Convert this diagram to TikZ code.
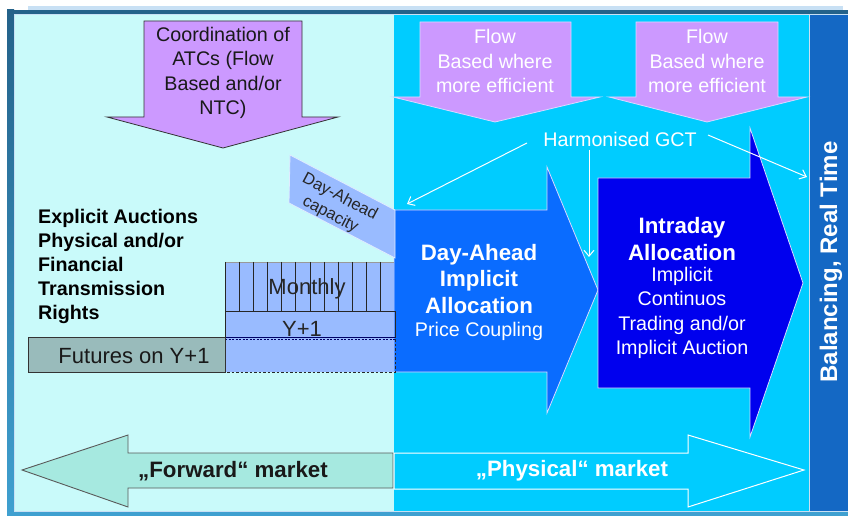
\documentclass[tikz,border=0pt]{standalone}
\usepackage{fontspec}
\setmainfont{Liberation Sans}
\usetikzlibrary{arrows.meta}
\definecolor{lcyan}{HTML}{C9FAFA}
\definecolor{cyanbg}{HTML}{00CCFF}
\definecolor{band}{HTML}{1468C4}
\definecolor{purp}{HTML}{CC99FF}
\definecolor{dablue}{HTML}{0A6CFF}
\definecolor{idblue}{HTML}{0000EE}
\definecolor{lblue}{HTML}{99BBFF}
\definecolor{futc}{HTML}{99BBBB}
\definecolor{fwdc}{HTML}{A6E9E0}
\definecolor{framedark}{HTML}{24628A}
\definecolor{framelight}{HTML}{C8E0F4}
\definecolor{framebot}{HTML}{3FA0D0}
\begin{document}
\begin{tikzpicture}[x=1bp,y=-1bp,
  txt/.style={inner sep=0pt, align=center, font=\fontsize{19.7bp}{24.3bp}\selectfont},
  ltxt/.style={inner sep=0pt, align=center, font=\fontsize{22bp}{26bp}\selectfont},
  btxt/.style={inner sep=0pt, align=center, font=\bfseries\fontsize{22.3bp}{26.5bp}\selectfont},
  gctarrow/.style={draw=white, line width=1bp, -{Straight Barb[length=6bp,width=10bp]}},
  darkedge/.style={draw=black!80, line width=0.8bp},
  lightedge/.style={draw=white!85!blue, line width=0.8bp}]
\useasboundingbox (0,0) rectangle (848,516);
% frame
\fill[white] (0,0) rectangle (848,516);
\fill[framelight] (28,6) rectangle (843,10);
\fill[framedark] (7,10) rectangle (848,14);
\shade[top color=framedark, bottom color=framebot] (7,10) rectangle (14,516);
\fill[framebot] (7,512) rectangle (848,516);
\fill[lcyan] (14,14) rectangle (394,511);
\fill[cyanbg] (394,14) rectangle (810,511);
\fill[band] (810,14) rectangle (848,512);
\draw[framelight, line width=1bp] (14,14.5) -- (848,14.5);
\draw[framelight, line width=1.2bp] (809.5,14) -- (809.5,511);
\draw[framelight, line width=1bp] (14,511.5) -- (848,511.5);
\draw[framelight, line width=1bp] (14.5,14) -- (14.5,511);
% coordination arrow
\path[fill=purp, darkedge] (144,21) -- (302,21) -- (302,117) -- (338,117) -- (223,148) -- (107,117) -- (144,117) -- cycle;
\node[txt, text=black!90] (coord) at (223,73) {Coordination of\\ATCs (Flow\\Based and/or\\NTC)};
% flow arrows
\path[fill=purp, lightedge] (420,22) -- (571,22) -- (571,97) -- (600,97) -- (495,122) -- (393,97) -- (420,97) -- cycle;
\path[fill=purp, lightedge] (636,22) -- (778,22) -- (778,97) -- (807,97) -- (707,122) -- (609,97) -- (636,97) -- cycle;
\node[txt, text=white] (flow1) at (495,61) {Flow\\Based where\\more efficient};
\node[txt, text=white] (flow2) at (707,61) {Flow\\Based where\\more efficient};
% day-ahead arrow
\path[fill=dablue, lightedge] (394,210) -- (547,210) -- (547,167) -- (598,290) -- (547,413) -- (547,372) -- (394,372) -- cycle;
% intraday arrow
\path[fill=idblue, lightedge] (598,178) -- (750,178) -- (750,128) -- (803,283) -- (750,437) -- (750,388) -- (598,388) -- cycle;
\node[btxt, text=white] (da) at (479,279) {Day-Ahead\\Implicit\\Allocation};
\node[txt, text=white] (dapc) at (479,331) {Price Coupling};
\node[btxt, text=white] (id) at (682,239) {Intraday\\Allocation};
\node[txt, text=white] (idtx) at (682,313) {Implicit\\Continuos\\Trading and/or\\Implicit Auction};
% day-ahead capacity
\path[fill=lblue, draw=white!70!lblue, line width=0.8bp] (290,155) -- (289,203) -- (395,258) -- (395,210) -- cycle;
\node[inner sep=0pt, align=center, rotate=-28, text=black!85, font=\fontsize{16.5bp}{20bp}\selectfont] (dacap) at (335,206) {Day-Ahead\\capacity};
% monthly / Y+1 / futures
\fill[lblue] (225,262) rectangle (394,372);
\draw[black!40, line width=0.6bp] (225,262) -- (394,262);
\foreach \i in {0,...,11} {\draw[black!85, line width=1bp] (225+\i*14.17,262) -- (225+\i*14.17,311);}
\draw[black!85, line width=0.9bp] (225,311) -- (395,311) -- (395,338);
\draw[black!85, line width=0.9bp] (225,311) -- (225,338);
\draw[blue!40!black, line width=0.9bp] (225,337) -- (395,337);
\draw[blue!40!black, line width=0.7bp, dash pattern=on 2bp off 1.5bp] (225,339) -- (395,339);
\draw[black!85, line width=0.7bp, dash pattern=on 2.5bp off 2bp] (225,338) -- (225,372) -- (395,372) -- (395,338);
\node[ltxt, text=black!85] (monthly) at (307,289) {Monthly};
\node[ltxt, text=black!85] (y1) at (302,329) {Y+1};
\path[fill=futc, darkedge] (28,337) rectangle (225,372);
\node[ltxt, text=black!90] (fut) at (134,356) {Futures on Y+1};
% explicit auctions text
\node[inner sep=0pt, align=left, anchor=west, font=\bfseries\fontsize{19.7bp}{24bp}\selectfont] (expl) at (38,266) {Explicit Auctions\\Physical and/or\\Financial\\Transmission\\Rights};
% forward / physical arrows
\path[fill=fwdc, draw=black!65, line width=0.9bp] (393,453) -- (128,453) -- (128,435) -- (22,470) -- (128,507) -- (128,488) -- (393,488) -- cycle;
\node[inner sep=0pt, font=\bfseries\fontsize{22.3bp}{26bp}\selectfont, text=black!90] (fwd) at (233,471) {„Forward“ market};
\path[fill=cyanbg, draw=white, line width=1bp] (394,453) -- (688,453) -- (688,435) -- (804,470) -- (688,507) -- (688,489) -- (394,489) -- cycle;
\node[inner sep=0pt, font=\bfseries\fontsize{22.3bp}{26bp}\selectfont, text=white] (phys) at (572,471) {„Physical“ market};
% harmonised GCT
\node[txt, text=white] (gct) at (620,139) {Harmonised GCT};
\coordinate (g1) at (527,143);
\coordinate (g2) at (589,150);
\coordinate (g3) at (708,135);
\coordinate (t1) at (407,204);
\coordinate (t2) at (589,257);
\coordinate (t3) at (807,177);
\draw[gctarrow] (g1) -- (t1);
\draw[gctarrow] (g2) -- (t2);
\draw[gctarrow] (g3) -- (t3);
% band text
\node[inner sep=0pt, rotate=90, text=white, font=\bfseries\fontsize{24bp}{28bp}\selectfont] (bal) at (831,262) {Balancing, Real Time};
\end{tikzpicture}
\end{document}
